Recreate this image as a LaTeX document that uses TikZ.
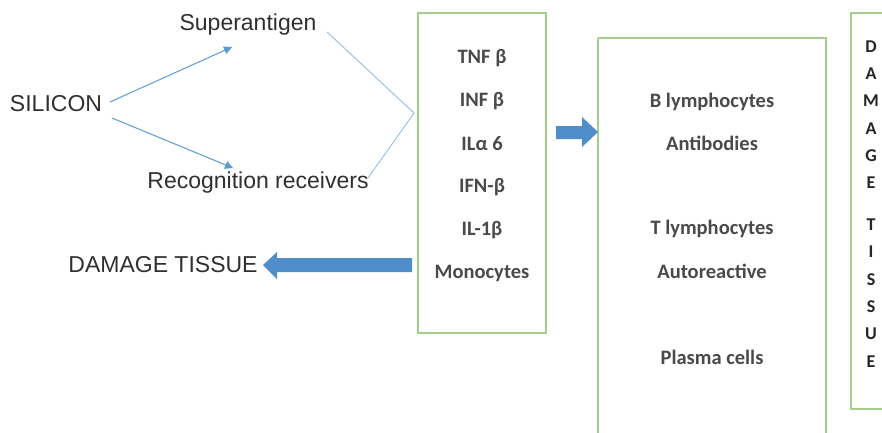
\documentclass[tikz,border=0pt]{standalone}
\usepackage{fontspec}
\setmainfont{Liberation Sans}
\newfontfamily\calfont{Carlito}
\usetikzlibrary{arrows.meta,shapes.arrows}
\definecolor{boxgreen}{HTML}{A4CF8A}
\definecolor{thinblue}{HTML}{9DC3E6}
\definecolor{arrblue}{HTML}{5B9BD5}
\definecolor{blockblue}{HTML}{4F8DCB}
\definecolor{txt}{HTML}{303030}
\definecolor{btxt}{HTML}{4A4A4A}
\tikzset{
  lefttext/.style={font=\fontsize{23}{27}\selectfont, text=txt, inner sep=0pt},
  boxtext/.style={font=\calfont\bfseries\fontsize{20.5}{24}\selectfont, text=btxt, inner sep=0pt},
  dmgtext/.style={font=\calfont\bfseries\fontsize{18}{21}\selectfont, text=black!85, inner sep=0pt},
  greenbox/.style={draw=boxgreen, line width=1.4pt},
  thinarrow/.style={draw=arrblue, line width=1pt, -{Triangle[length=8pt,width=8pt]}},
  thinline/.style={draw=thinblue, line width=1pt},
  blockarrow/.style={fill=blockblue, draw=none}
}
\begin{document}
\begin{tikzpicture}[x=1pt,y=-1pt]
\useasboundingbox (0,0) rectangle (882,432);
\fill[white] (0,0) rectangle (882,432);

% boxes
\draw[greenbox] (418,13) rectangle (546,333);
\draw[greenbox] (598,38) -- (598,440) (826,440) -- (826,38) -- (598,38);
\draw[greenbox] (890,409) -- (851,409) -- (851,13) -- (890,13);

% left texts
\node[lefttext] (sil) at (56,104) {SILICON};
\node[lefttext] (sup) at (248,25) {Superantigen};
\node[lefttext] (rec) at (258,183) {Recognition receivers};
\node[lefttext] (dmg) at (163,265) {DAMAGE TISSUE};

% arrows from silicon
\coordinate (s1) at (110,102);
\coordinate (s2) at (112,118);
\coordinate (t1) at (232,47);
\coordinate (t2) at (233,168);
\draw[thinarrow] (s1) -- (t1);
\draw[thinarrow] (s2) -- (t2);

% thin lines to box
\coordinate (supend) at (327,32);
\coordinate (recend) at (368,178);
\coordinate (join) at (414,113);
\draw[thinline] (supend) -- (join) -- (recend);

% cytokine box texts
\node[boxtext] (c1) at (482,58) {TNF β};
\node[boxtext] (c2) at (482,101) {INF β};
\node[boxtext] (c3) at (482,144) {ILα 6};
\node[boxtext] (c4) at (482,187) {IFN-β};
\node[boxtext] (c5) at (482,230) {IL-1β};
\node[boxtext] (c6) at (482,273) {Monocytes};

% lymphocyte box texts
\node[boxtext] (l1) at (712,102) {B lymphocytes};
\node[boxtext] (l2) at (712,143) {Antibodies};
\node[boxtext] (l3) at (712,229) {T lymphocytes};
\node[boxtext] (l4) at (712,271) {Autoreactive};
\node[boxtext] (l5) at (712,357) {Plasma cells};

% damage tissue vertical letters
\foreach \ch/\yy [count=\i] in {D/47,A/74,M/101,A/129,G/156,E/183,T/225,I/252,S/280,S/307,U/334,E/362}
  \node[dmgtext] (d\i) at (871,\yy) {\ch};

% block arrows
\fill[blockblue] (556,126) -- (582,126) -- (582,117) -- (598,132) -- (582,147) -- (582,139) -- (556,139) -- cycle;
\fill[blockblue] (412,258) -- (277,258) -- (277,252) -- (263,265) -- (277,279) -- (277,272) -- (412,272) -- cycle;
\end{tikzpicture}
\end{document}
